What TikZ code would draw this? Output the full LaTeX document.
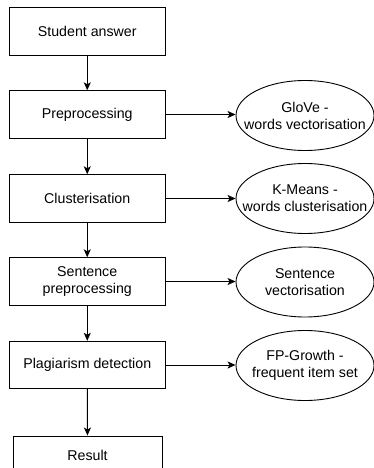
\documentclass[tikz,border=0pt]{standalone}
\usepackage{fontspec}
\setmainfont{Liberation Sans}
\usetikzlibrary{shapes.geometric,arrows.meta}
\begin{document}
\begin{tikzpicture}[x=1pt,y=1pt,
  font=\fontsize{14.2}{17}\selectfont,
  stepbox/.style={draw, line width=0.9pt, minimum width=155.5pt, minimum height=47.5pt, inner sep=0pt, align=center},
  toolell/.style={draw, ellipse, line width=0.9pt, minimum width=138pt, minimum height=70pt, inner sep=0pt},
  toollbl/.style={align=center, inner sep=0pt},
  arr/.style={line width=0.9pt, -{Stealth[length=8pt,width=7pt,inset=2pt]}}
]
\useasboundingbox (0,0) rectangle (373,-468);
\node[stepbox] (s1) at (87.25,-31.25) {Student answer};
\node[stepbox] (s2) at (87.25,-114.5) {Preprocessing};
\node[stepbox] (s3) at (87.25,-198.5) {Clusterisation};
\node[stepbox] (s4) at (87.25,-281.5) {Sentence\\preprocessing};
\node[stepbox] (s5) at (87.25,-365) {Plagiarism detection};
\node[stepbox, minimum width=149pt, minimum height=38pt] (s6) at (87.5,-455) {Result};

\node[toolell] (e1) at (305,-115.5) {};
\node[toollbl] at (e1) {GloVe -\\words vectorisation};
\node[toolell] (e2) at (305,-198.5) {};
\node[toollbl] at (e2) {K-Means -\\words clusterisation};
\node[toolell] (e3) at (305,-282) {};
\node[toollbl] at (e3) {Sentence\\vectorisation};
\node[toolell] (e4) at (305,-365.5) {};
\node[toollbl] at (e4) {FP-Growth -\\frequent item set};

\draw[arr] (s1) -- (s2);
\draw[arr] (s2) -- (s3);
\draw[arr] (s3) -- (s4);
\draw[arr] (s4) -- (s5);
\draw[arr] (s5) -- (s6);
\draw[arr] (s2.east) -- (s2.east -| e1.west);
\draw[arr] (s3.east) -- (s3.east -| e2.west);
\draw[arr] (s4.east) -- (s4.east -| e3.west);
\draw[arr] (s5.east) -- (s5.east -| e4.west);
\end{tikzpicture}
\end{document}
